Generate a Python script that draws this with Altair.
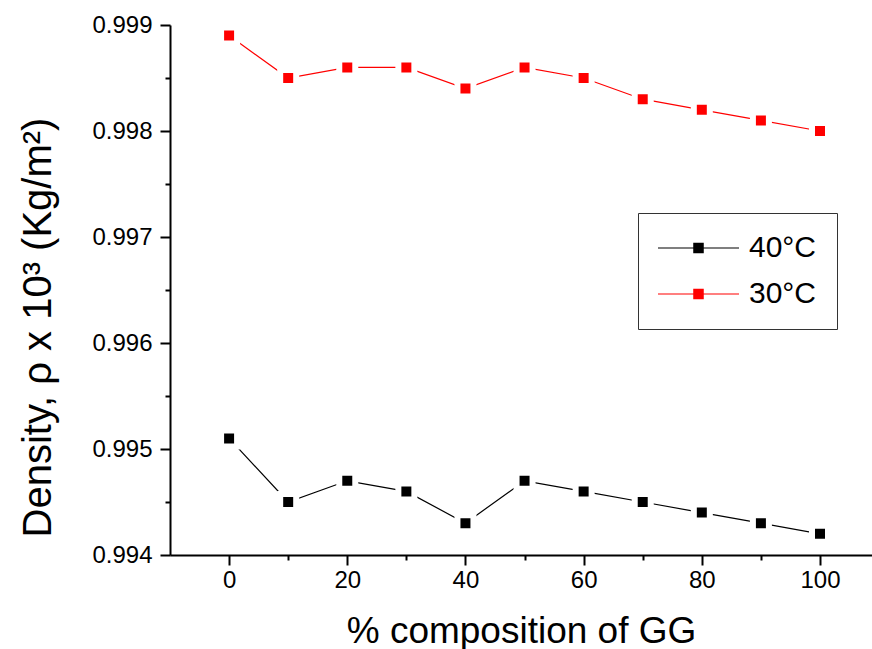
import altair as alt
import pandas as pd

composition = [0, 10, 20, 30, 40, 50, 60, 70, 80, 90, 100]
density_30 = [0.9989, 0.9985, 0.9986, 0.9986, 0.9984, 0.9986, 0.9985, 0.9983, 0.9982, 0.9981, 0.9980]
density_40 = [0.9951, 0.9945, 0.9947, 0.9946, 0.9943, 0.9947, 0.9946, 0.9945, 0.9944, 0.9943, 0.9942]
series_names = ["40°C", "30°C"]
series_colors = ["#000000", "#ff0000"]
x_major = [0, 20, 40, 60, 80, 100]
x_minor = [10, 30, 50, 70, 90]
y_major = [0.994, 0.995, 0.996, 0.997, 0.998, 0.999]
y_minor = [0.9945, 0.9955, 0.9965, 0.9975, 0.9985]

rows = []
for c, d in zip(composition, density_40):
    rows.append({"comp": c, "density": d, "series": series_names[0]})
for c, d in zip(composition, density_30):
    rows.append({"comp": c, "density": d, "series": series_names[1]})
df = pd.DataFrame(rows)

FONT = "Liberation Sans"

x_scale = alt.Scale(domain=[-10, 108.8], nice=False, zero=False)
y_scale = alt.Scale(domain=[0.994, 0.999], nice=False, zero=False)
color_scale = alt.Scale(domain=series_names, range=series_colors)

x_axis_major = alt.Axis(
    orient="bottom", values=x_major, title="% composition of GG", grid=False,
    domainColor="black", domainWidth=2, tickColor="black", tickWidth=2, tickSize=10,
    labelFont=FONT, labelFontSize=24, labelColor="black", labelPadding=3,
    titleFont=FONT, titleFontSize=37, titleFontWeight="normal", titleColor="black",
    titleBaseline="alphabetic", titleY=87,
)
y_axis_major = alt.Axis(
    orient="left", values=y_major, format=".3f", title="Density, ρ x 10³ (Kg/m²)", grid=False,
    domainColor="black", domainWidth=2, tickColor="black", tickWidth=2, tickSize=10,
    labelFont=FONT, labelFontSize=24, labelColor="black", labelPadding=8,
    titleFont=FONT, titleFontSize=40, titleFontWeight="normal", titleColor="black",
    titleBaseline="alphabetic", titleX=-120, titleY=302, titleAngle=270,
)
x_axis_minor = alt.Axis(
    orient="bottom", values=x_minor, labels=False, title=None, domain=False, grid=False,
    tickColor="black", tickWidth=2, tickSize=5,
)
y_axis_minor = alt.Axis(
    orient="left", values=y_minor, labels=False, title=None, domain=False, grid=False,
    tickColor="black", tickWidth=2, tickSize=5,
)

legend = alt.Legend(
    title=None, orient="none", legendX=468, legendY=188,
    symbolType="M-1,-0.011H1V0.011H-1Z M-0.13,-0.13H0.13V0.13H-0.13Z",
    symbolSize=6561, symbolStrokeWidth=0, symbolOpacity=1,
    clipHeight=30, rowPadding=16, padding=20, labelOffset=10,
    labelFont=FONT, labelFontSize=30, labelColor="black",
    strokeColor="#333333", fillColor="white",
)

# legend-bearing layer (drawn first, underneath)
points_legend = alt.Chart(df).mark_point(
    shape="square", filled=True, size=100, opacity=1
).encode(
    x=alt.X("comp:Q", scale=x_scale, axis=x_axis_minor),
    y=alt.Y("density:Q", scale=y_scale, axis=y_axis_minor),
    color=alt.Color("series:N", scale=color_scale, legend=legend),
)

lines = alt.Chart(df).mark_line(strokeWidth=1.2).encode(
    x=alt.X("comp:Q", scale=x_scale, axis=x_axis_major),
    y=alt.Y("density:Q", scale=y_scale, axis=y_axis_major),
    stroke=alt.Stroke("series:N", scale=color_scale, legend=None),
    detail="series:N",
)

points_top = alt.Chart(df).mark_point(
    shape="square", filled=True, size=256, stroke="white", strokeWidth=6, opacity=1
).encode(
    x=alt.X("comp:Q", scale=x_scale, axis=None),
    y=alt.Y("density:Q", scale=y_scale, axis=None),
    fill=alt.Fill("series:N", scale=color_scale, legend=None),
)

chart = alt.layer(points_legend, lines, points_top).resolve_axis(
    x="independent", y="independent"
).properties(
    width=702, height=530,
    autosize=alt.AutoSizeParams(type="none"),
    padding={"left": 170, "top": 25, "right": 0, "bottom": 94},
).configure_view(stroke=None)

chart.save("out.html", embed_options={"renderer": "svg", "actions": False})
